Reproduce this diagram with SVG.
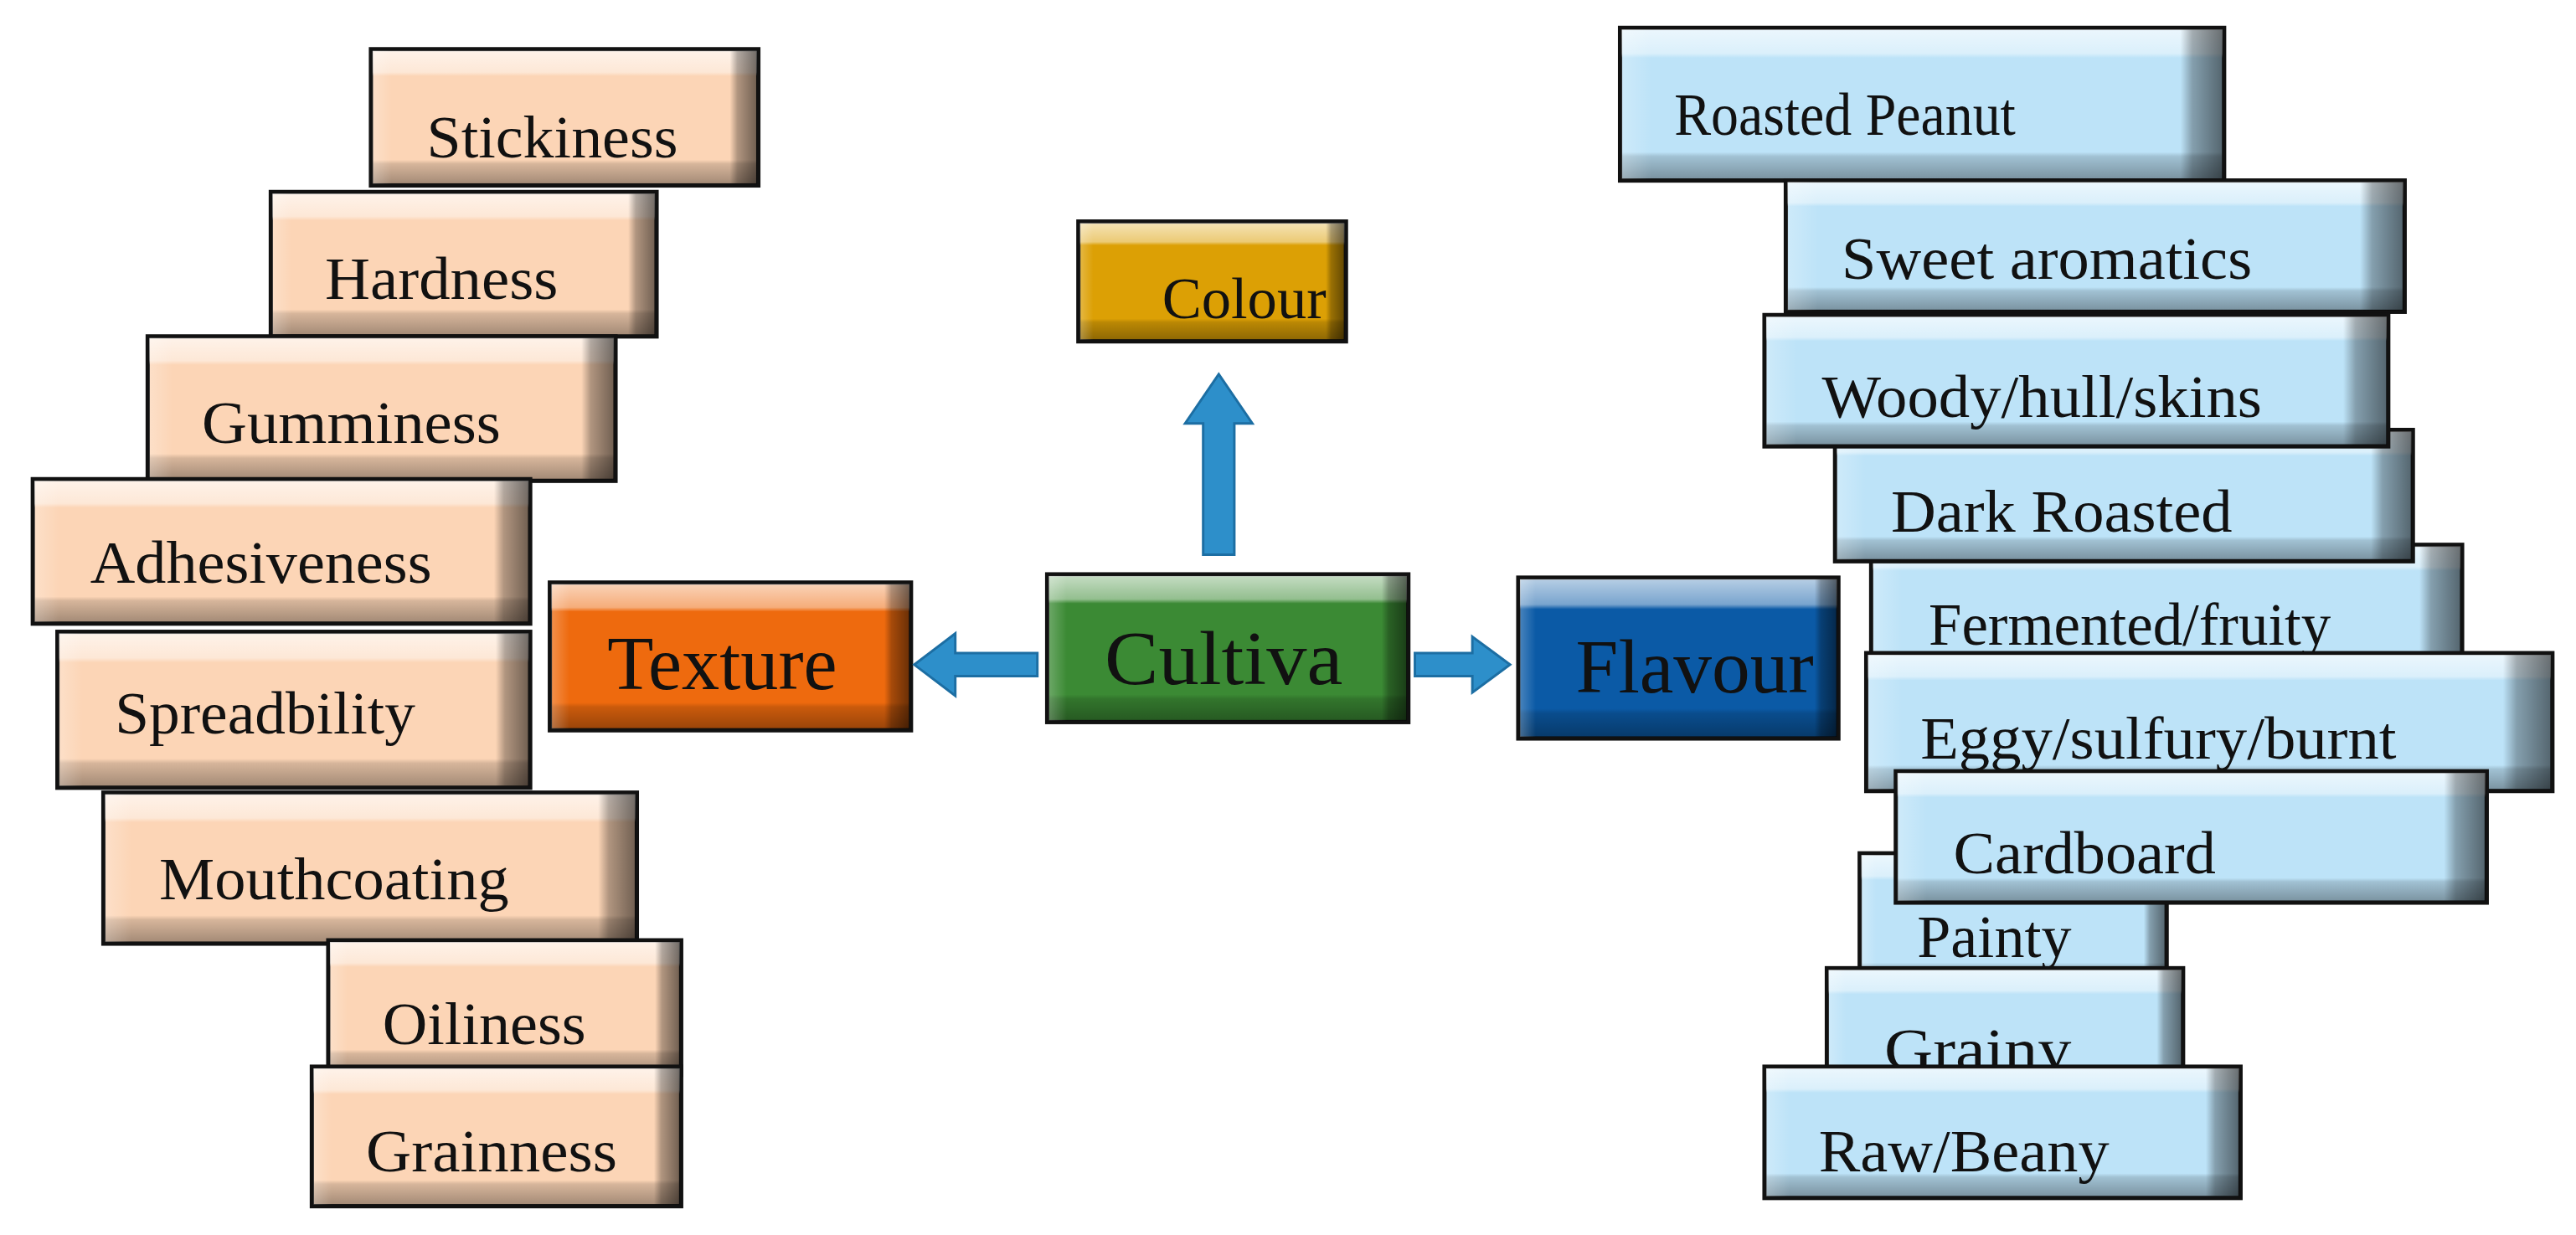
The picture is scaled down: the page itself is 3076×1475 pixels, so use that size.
<svg xmlns="http://www.w3.org/2000/svg" width="3076" height="1475" viewBox="0 0 3076 1475">
<defs>
<linearGradient id="gv" x1="0" y1="0" x2="0" y2="1">
<stop offset="0" stop-color="#fff" stop-opacity="0.7"/><stop offset="0.16" stop-color="#fff" stop-opacity="0.45"/><stop offset="0.19" stop-color="#fff" stop-opacity="0"/><stop offset="0.82" stop-color="#000" stop-opacity="0"/><stop offset="0.85" stop-color="#000" stop-opacity="0.15"/><stop offset="1" stop-color="#000" stop-opacity="0.35"/>
</linearGradient>
<linearGradient id="gh" x1="0" y1="0" x2="1" y2="0">
<stop offset="0" stop-color="#fff" stop-opacity="0.25"/><stop offset="0.05" stop-color="#fff" stop-opacity="0"/><stop offset="0.93" stop-color="#000" stop-opacity="0"/><stop offset="0.95" stop-color="#000" stop-opacity="0.3"/><stop offset="1" stop-color="#000" stop-opacity="0.55"/>
</linearGradient>
<style>
.b{stroke:#111;stroke-width:2.6}
.p{fill:#fcd5b6}.l{fill:#bde3f8}
.ov{fill:url(#gv)}.oh{fill:url(#gh)}
text{font-family:"Liberation Serif","Times New Roman",serif;fill:#111}
.s{font-size:37px}.c{font-size:46px}
.ar{fill:#2d8fca;stroke:#1c6ea3;stroke-width:1.5}
</style>
</defs>
<rect width="3076" height="1475" fill="#fff"/>
<g transform="scale(1.96)">
<g id="texture-items">
<g id="stickiness"><rect class="b p" x="226" y="30" width="236" height="83"/><rect class="ov" x="227" y="31" width="234" height="81"/><rect class="oh" x="227" y="31" width="234" height="81"/><text class="s" x="260" y="96" textLength="153" lengthAdjust="spacingAndGlyphs">Stickiness</text></g>
<g id="hardness"><rect class="b p" x="165" y="117" width="235" height="88"/><rect class="ov" x="166" y="118" width="233" height="86"/><rect class="oh" x="166" y="118" width="233" height="86"/><text class="s" x="198" y="182" textLength="142" lengthAdjust="spacingAndGlyphs">Hardness</text></g>
<g id="gumminess"><rect class="b p" x="90" y="205" width="285" height="88"/><rect class="ov" x="91" y="206" width="283" height="86"/><rect class="oh" x="91" y="206" width="283" height="86"/><text class="s" x="123" y="270" textLength="182" lengthAdjust="spacingAndGlyphs">Gumminess</text></g>
<g id="adhesiveness"><rect class="b p" x="20" y="292" width="303" height="88"/><rect class="ov" x="21" y="293" width="301" height="86"/><rect class="oh" x="21" y="293" width="301" height="86"/><text class="s" x="55" y="355" textLength="208" lengthAdjust="spacingAndGlyphs">Adhesiveness</text></g>
<g id="spreadbility"><rect class="b p" x="35" y="385" width="288" height="95"/><rect class="ov" x="36" y="386" width="286" height="93"/><rect class="oh" x="36" y="386" width="286" height="93"/><text class="s" x="70" y="447" textLength="183" lengthAdjust="spacingAndGlyphs">Spreadbility</text></g>
<g id="mouthcoating"><rect class="b p" x="63" y="483" width="325" height="92"/><rect class="ov" x="64" y="484" width="323" height="90"/><rect class="oh" x="64" y="484" width="323" height="90"/><text class="s" x="97" y="548" textLength="213" lengthAdjust="spacingAndGlyphs">Mouthcoating</text></g>
<g id="oiliness"><rect class="b p" x="200" y="573" width="215" height="82"/><rect class="ov" x="201" y="574" width="213" height="80"/><rect class="oh" x="201" y="574" width="213" height="80"/><text class="s" x="233" y="636" textLength="124" lengthAdjust="spacingAndGlyphs">Oiliness</text></g>
<g id="grainness"><rect class="b p" x="190" y="650" width="225" height="85"/><rect class="ov" x="191" y="651" width="223" height="83"/><rect class="oh" x="191" y="651" width="223" height="83"/><text class="s" x="223" y="714" textLength="153" lengthAdjust="spacingAndGlyphs">Grainness</text></g>
</g>
<g id="flavour-items">
<g id="fermented"><rect class="b l" x="1140" y="332" width="360" height="80"/><rect class="ov" x="1141" y="333" width="358" height="78"/><rect class="oh" x="1141" y="333" width="358" height="78"/><text class="s" x="1175" y="393" textLength="245" lengthAdjust="spacingAndGlyphs">Fermented/fruity</text></g>
<g id="dark-roasted"><rect class="b l" x="1118" y="262" width="352" height="80"/><rect class="ov" x="1119" y="263" width="350" height="78"/><rect class="oh" x="1119" y="263" width="350" height="78"/><text class="s" x="1152" y="324" textLength="208" lengthAdjust="spacingAndGlyphs">Dark Roasted</text></g>
<g id="roasted-peanut"><rect class="b l" x="987" y="17" width="368" height="93"/><rect class="ov" x="988" y="18" width="366" height="91"/><rect class="oh" x="988" y="18" width="366" height="91"/><text class="s" x="1020" y="82" textLength="208" lengthAdjust="spacingAndGlyphs">Roasted Peanut</text></g>
<g id="sweet-aromatics"><rect class="b l" x="1088" y="110" width="377" height="80"/><rect class="ov" x="1089" y="111" width="375" height="78"/><rect class="oh" x="1089" y="111" width="375" height="78"/><text class="s" x="1122" y="170" textLength="250" lengthAdjust="spacingAndGlyphs">Sweet aromatics</text></g>
<g id="woody"><rect class="b l" x="1075" y="192" width="380" height="80"/><rect class="ov" x="1076" y="193" width="378" height="78"/><rect class="oh" x="1076" y="193" width="378" height="78"/><text class="s" x="1110" y="254" textLength="268" lengthAdjust="spacingAndGlyphs">Woody/hull/skins</text></g>
<g id="eggy"><rect class="b l" x="1137" y="398" width="418" height="84"/><rect class="ov" x="1138" y="399" width="416" height="82"/><rect class="oh" x="1138" y="399" width="416" height="82"/><text class="s" x="1170" y="462" textLength="290" lengthAdjust="spacingAndGlyphs">Eggy/sulfury/burnt</text></g>
<g id="painty"><rect class="b l" x="1133" y="520" width="187" height="82"/><rect class="ov" x="1134" y="521" width="185" height="80"/><rect class="oh" x="1134" y="521" width="185" height="80"/><text class="s" x="1168" y="583" textLength="94" lengthAdjust="spacingAndGlyphs">Painty</text></g>
<g id="cardboard"><rect class="b l" x="1155" y="470" width="360" height="80"/><rect class="ov" x="1156" y="471" width="358" height="78"/><rect class="oh" x="1156" y="471" width="358" height="78"/><text class="s" x="1190" y="532" textLength="160" lengthAdjust="spacingAndGlyphs">Cardboard</text></g>
<g id="grainy"><rect class="b l" x="1113" y="590" width="217" height="80"/><rect class="ov" x="1114" y="591" width="215" height="78"/><rect class="oh" x="1114" y="591" width="215" height="78"/><text class="s" x="1148" y="652" textLength="114" lengthAdjust="spacingAndGlyphs">Grainy</text></g>
<g id="raw-beany"><rect class="b l" x="1075" y="650" width="290" height="80"/><rect class="ov" x="1076" y="651" width="288" height="78"/><rect class="oh" x="1076" y="651" width="288" height="78"/><text class="s" x="1108" y="714" textLength="177" lengthAdjust="spacingAndGlyphs">Raw/Beany</text></g>
</g>
<g id="colour"><rect class="b" fill="#dca005" x="657" y="135" width="163" height="73"/><rect class="ov" x="658" y="136" width="161" height="71"/><rect class="oh" x="658" y="136" width="161" height="71"/><text style="font-size:36px" x="708" y="194" textLength="100" lengthAdjust="spacingAndGlyphs">Colour</text></g>
<g id="texture"><rect class="b" fill="#ee6a0e" x="335" y="355" width="220" height="90"/><rect class="ov" x="336" y="356" width="218" height="88"/><rect class="oh" x="336" y="356" width="218" height="88"/><text class="c" x="370" y="420" textLength="140" lengthAdjust="spacingAndGlyphs">Texture</text></g>
<g id="cultiva"><rect class="b" fill="#3b8a34" x="638" y="350" width="220" height="90"/><rect class="ov" x="639" y="351" width="218" height="88"/><rect class="oh" x="639" y="351" width="218" height="88"/><text class="c" x="673" y="417" textLength="145" lengthAdjust="spacingAndGlyphs">Cultiva</text></g>
<g id="flavour"><rect class="b" fill="#0b5aa6" x="925" y="352" width="195" height="98"/><rect class="ov" x="926" y="353" width="193" height="96"/><rect class="oh" x="926" y="353" width="193" height="96"/><text class="c" x="960" y="422" textLength="145" lengthAdjust="spacingAndGlyphs">Flavour</text></g>
<g id="connectors">
<polygon class="ar" points="733,338 733,258 722,258 742.5,228 763,258 752,258 752,338"/>
<polygon class="ar" points="632,398 582,398 582,386 557,405 582,424 582,412 632,412"/>
<polygon class="ar" points="862,398 897,398 897,388 920,405 897,422 897,412 862,412"/>
</g>
</g>
</svg>
